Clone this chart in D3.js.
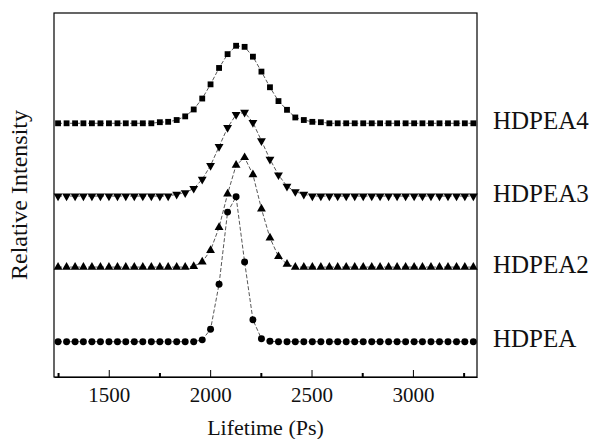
<!DOCTYPE html>
<html lang="en">
<head>
<meta charset="UTF-8">
<title>Lifetime spectra</title>
<script src="https://cdn.jsdelivr.net/npm/d3@7"></script>
<style>
  body { margin: 0; background: #fff; }
  svg text { font-family: "Liberation Serif", "Times New Roman", serif; fill: #111; }
  .axis path, .axis line { stroke: #000; }
</style>
</head>
<body>
<div id="chart"></div>
<script>
// Data
var lifetime = [
  1250, 1292, 1334, 1375, 1417, 1459, 1501, 1543, 1584, 1626,
  1668, 1710, 1752, 1793, 1835, 1877, 1919, 1961, 2002, 2044,
  2086, 2128, 2170, 2211, 2253, 2295, 2337, 2379, 2420, 2462,
  2504, 2546, 2588, 2629, 2671, 2713, 2755, 2797, 2838, 2880,
  2922, 2964, 3006, 3047, 3089, 3131, 3173, 3215, 3256, 3298];

var hdpea = [
  0, 0, 0, 0, 0, 0, 0, 0, 0, 0,
  0, 0, 0, 0, 0, 0, 0, 0.5, 3.4, 15.8,
  35.6, 39.8, 21.9, 6.0, 0.8, 0.1, 0, 0, 0, 0,
  0, 0, 0, 0, 0, 0, 0, 0, 0, 0,
  0, 0, 0, 0, 0, 0, 0, 0, 0, 0];

var hdpea2 = [
  0, 0, 0, 0, 0, 0, 0, 0, 0, 0,
  0, 0, 0, 0, 0, 0, 0.2, 1.4, 4.6, 10.9,
  20.1, 28.0, 30.1, 25.4, 16.0, 8.0, 2.9, 0.8, 0, 0,
  0, 0, 0, 0, 0, 0, 0, 0, 0, 0,
  0, 0, 0, 0, 0, 0, 0, 0, 0, 0];

var hdpea3 = [
  0, 0, 0, 0, 0, 0, 0, 0, 0, 0,
  0, 0, 0, 0, 0.5, 0.9, 2.1, 4.6, 8.4, 13.6,
  18.8, 22.4, 23.0, 20.2, 15.2, 10.1, 5.8, 2.7, 1.2, 0.5,
  0, 0, 0, 0, 0, 0, 0, 0, 0, 0,
  0, 0, 0, 0, 0, 0, 0, 0, 0, 0];

var hdpea4 = [
  0, 0, 0, 0, 0, 0, 0, 0, 0, 0,
  0, 0, 0.3, 0.4, 0.9, 1.9, 3.8, 6.8, 10.7, 15.2,
  19.0, 21.3, 21.0, 18.3, 14.2, 9.9, 6.1, 3.7, 1.6, 0.9,
  0.4, 0.3, 0, 0, 0, 0, 0, 0, 0, 0,
  0, 0, 0, 0, 0, 0, 0, 0, 0, 0];

var names = ["HDPEA", "HDPEA2", "HDPEA3", "HDPEA4"];
var offsets = [9.7, 30.2, 49.7, 69.7];   // vertical shift of each curve
var majorTicks = [1500, 2000, 2500, 3000];
var minorTicks = [1250, 1750, 2250, 2750, 3250];

var series = [hdpea, hdpea2, hdpea3, hdpea4];
var symbols = [d3.symbolCircle, d3.symbolTriangle, d3.symbolTriangle, d3.symbolSquare];
var symSize = [38, 34, 34, 34];
var symRot = [0, 0, 180, 0];

var W = 592, H = 439;
var margin = { top: 13, right: 115, bottom: 62, left: 54 };
var width = W - margin.left - margin.right,
    height = H - margin.top - margin.bottom;

var svg = d3.select("#chart").append("svg")
  .attr("width", W).attr("height", H);
var g = svg.append("g")
  .attr("transform", "translate(" + margin.left + "," + margin.top + ")");

var x = d3.scaleLinear().domain([1230, 3316]).range([0, width]);
var y = d3.scaleLinear().domain([0, 100]).range([height, 0]);

// frame
g.append("rect")
  .attr("width", width).attr("height", height)
  .attr("fill", "none").attr("stroke", "#000").attr("stroke-width", 1.2);

// x axis, ticks pointing inward
g.append("g")
  .attr("class", "axis")
  .attr("transform", "translate(0," + height + ")")
  .call(d3.axisBottom(x).tickValues(majorTicks).tickFormat(d3.format("d"))
    .tickSizeInner(-7).tickSizeOuter(0).tickPadding(10))
  .call(function (a) {
    a.select(".domain").attr("stroke-width", 1.2);
    a.selectAll("text").attr("font-size", 21);
  });
g.append("g")
  .attr("class", "axis")
  .attr("transform", "translate(0," + height + ")")
  .call(d3.axisBottom(x).tickValues(minorTicks).tickSizeInner(-4).tickSizeOuter(0).tickFormat(""))
  .call(function (a) {
    a.select(".domain").remove();
    a.selectAll("line").attr("stroke-width", 2);
  });

// curves
var line = d3.line()
  .x(function (d, i) { return x(lifetime[i]); });

series.forEach(function (s, k) {
  line.y(function (d) { return y(d + offsets[k]); });
  g.append("path")
    .datum(s)
    .attr("fill", "none")
    .attr("stroke", "#444")
    .attr("stroke-width", 0.9)
    .attr("stroke-dasharray", "4,2")
    .attr("d", line);

  g.append("g").selectAll("path")
    .data(s)
    .join("path")
    .attr("d", d3.symbol().type(symbols[k]).size(symSize[k]))
    .attr("transform", function (d, i) {
      return "translate(" + x(lifetime[i]) + "," + y(d + offsets[k]) + ") rotate(" + symRot[k] + ")";
    })
    .attr("fill", "#000");

  g.append("text")
    .attr("x", width + 16)
    .attr("y", y(offsets[k]))
    .attr("dy", "0.22em")
    .attr("font-size", 25)
    .text(names[k]);
});

// axis titles
svg.append("text")
  .attr("x", margin.left + width / 2)
  .attr("y", 435)
  .attr("text-anchor", "middle")
  .attr("font-size", 22)
  .text("Lifetime (Ps)");

svg.append("text")
  .attr("transform", "translate(27," + (margin.top + height / 2) + ") rotate(-90)")
  .attr("text-anchor", "middle")
  .attr("font-size", 24)
  .text("Relative Intensity");
</script>
</body>
</html>
